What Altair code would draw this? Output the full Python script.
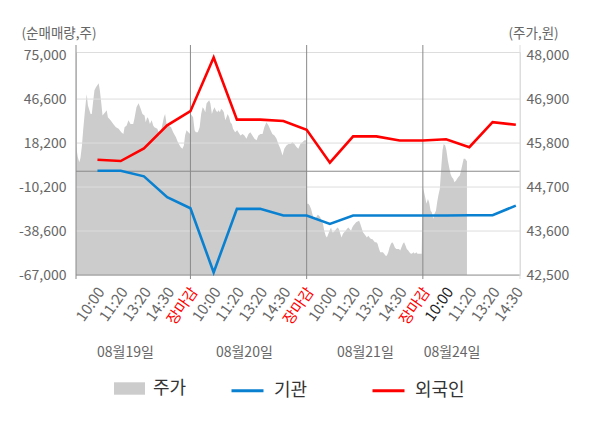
import altair as alt
import pandas as pd

# ---------------- data ----------------
# x position unit: "slot" (each trading day = 390 slots, label ticks every 78)
tick_slots = [78, 156, 234, 312, 390, 468, 546, 624, 702, 780,
              858, 936, 1014, 1092, 1170, 1248, 1326, 1404, 1482]
tick_labels = ["10:00", "11:20", "13:20", "14:30", "장마감",
               "10:00", "11:20", "13:20", "14:30", "장마감",
               "10:00", "11:20", "13:20", "14:30", "장마감",
               "10:00", "11:20", "13:20", "14:30"]
tick_kinds = ["n", "n", "n", "n", "close",
              "n", "n", "n", "n", "close",
              "n", "n", "n", "n", "close",
              "hi", "n", "n", "n"]

day_bounds = [390, 780, 1170]
date_slots = [172, 571, 977, 1268]
date_labels = ["08월19일", "08월20일", "08월21일", "08월24일"]

# net buying (shares) at label positions
inst_net = [300, 300, -3300, -16800, -23900, -65300, -24300, -24300, -28600, -28600,
            -34000, -28600, -28600, -28600, -28600, -28600, -28400, -28400, -22200]
foreign_net = [7400, 6600, 14800, 29600, 38800, 73400, 33300, 33300, 32400, 26800,
               5500, 22500, 22500, 19900, 19900, 20700, 15500, 31700, 30000]

# share price (won), intraday
day1_slot = [6, 12, 17, 21, 26, 30, 35, 39, 42, 46, 51, 55, 59, 64, 68, 73, 77, 82, 86, 91,
             95, 99, 104, 109, 113, 122, 131, 140, 149, 158, 165, 169, 176, 182, 189, 198, 202, 209, 216, 223,
             229, 236, 240, 245, 249, 254, 260, 265, 269, 279, 287, 294, 301, 305, 310, 316, 325, 332, 341, 348,
             357, 363, 368, 372, 377, 383, 389]
day1_price = [45740, 45450, 45320, 45430, 45740, 46120, 46530, 46830, 47020, 46740,
              46620, 46530, 46530, 46870, 47120, 47200, 47240, 47300, 47120, 46790,
              46490, 46530, 46570, 46620, 46450, 46370, 46280, 46200, 46160, 46070,
              46030, 46200, 46240, 46370, 46280, 46280, 46410, 46700, 46800, 46660,
              46530, 46490, 46320, 46450, 46410, 46280, 46370, 46240, 46200, 46160,
              45990, 46200, 46450, 46530, 46280, 46240, 46200, 46070, 45950, 45820,
              45700, 45660, 45740, 45990, 46120, 46070, 46030]

day2_slot = [391, 399, 404, 408, 415, 421, 426, 431, 435, 440, 444, 448, 453, 457, 462, 466, 471, 475, 480, 484,
             489, 493, 498, 502, 507, 511, 515, 520, 524, 529, 533, 540, 547, 551, 558, 565, 571, 578, 585, 591,
             598, 605, 612, 618, 625, 632, 638, 645, 652, 659, 665, 672, 679, 685, 692, 699, 705, 712, 719, 726,
             732, 739, 746, 752, 759, 766, 773, 779]
day2_price = [46530, 46450, 46120, 46070, 46070, 46200, 46530, 46700, 46660, 46570,
              46790, 46830, 46870, 46790, 46530, 46620, 46700, 46620, 46570, 46620,
              46570, 46660, 46620, 46570, 46370, 46450, 46530, 46450, 46320, 46280,
              46160, 46070, 46120, 46070, 45990, 46030, 45990, 45910, 46030, 46070,
              45990, 45910, 45870, 45990, 46030, 46030, 46200, 46320, 46240, 46120,
              46030, 45990, 45910, 45780, 45660, 45490, 45660, 45740, 45780, 45780,
              45820, 45780, 45700, 45660, 45780, 45820, 45870, 45870]

day3_slot = [782, 786, 790, 795, 799, 803, 808, 812, 817, 821, 826, 830, 835, 839, 844, 848, 853, 857, 862, 866,
             870, 875, 879, 884, 888, 893, 897, 902, 906, 911, 915, 920, 924, 929, 933, 937, 942, 946, 951, 956,
             960, 964, 969, 973, 978, 982, 987, 991, 996, 1000, 1005, 1009, 1014, 1018, 1023, 1027, 1031, 1036,
             1040, 1045, 1049, 1054, 1058, 1063, 1067, 1071, 1076, 1081, 1085, 1090, 1094, 1098, 1103, 1107,
             1112, 1116, 1121, 1125, 1130, 1134, 1139, 1143, 1148, 1152, 1157, 1161, 1166]
day3_price = [44280, 44280, 44240, 44150, 44030, 43940, 43900, 43940, 44010, 43990,
              43940, 43860, 43780, 43610, 43480, 43440, 43530, 43610, 43690, 43570,
              43570, 43610, 43650, 43690, 43650, 43530, 43440, 43530, 43570, 43610,
              43650, 43690, 43650, 43610, 43690, 43740, 43780, 43820, 43840, 43860,
              43780, 43690, 43570, 43530, 43480, 43440, 43480, 43440, 43400, 43400,
              43360, 43320, 43320, 43280, 43150, 43070, 43070, 43070, 43030, 42980,
              42980, 43070, 43190, 43280, 43320, 43280, 43190, 43150, 43150, 43150,
              43110, 43190, 43280, 43320, 43230, 43150, 43110, 43070, 43030, 43040,
              43070, 43030, 43070, 43030, 43030, 43030, 43030]

day4_slot = [1170, 1173, 1178, 1182, 1187, 1191, 1196, 1200, 1205, 1209, 1214, 1218, 1222, 1227, 1231,
             1236, 1240, 1245, 1249, 1254, 1258, 1263, 1267, 1272, 1276, 1281, 1285, 1289, 1294, 1298,
             1303, 1307, 1312, 1316, 1318]
day4_price = [44700, 44610, 44440, 44280, 44400, 44320, 44110, 44070, 43900, 44030,
              44110, 44320, 44490, 44660, 45110, 45620, 45780, 45740, 45620, 45360,
              45200, 45030, 44950, 44910, 44820, 44860, 44910, 44950, 44990, 45110,
              45280, 45410, 45410, 45360, 45360]

left_ticks = [-67000, -38600, -10200, 18200, 46600, 75000]
right_ticks = [42500, 43600, 44700, 45800, 46900, 48000]
grid_vals = [46600, 18200, -10200, -38600]

# ---------------- tables ----------------
price_df = pd.DataFrame({
    "slot": day1_slot + day2_slot + day3_slot + day4_slot,
    "price": day1_price + day2_price + day3_price + day4_price,
})
price_df["series"] = "주가"

net_df = pd.DataFrame({
    "slot": tick_slots * 2,
    "net": inst_net + foreign_net,
    "series": ["기관"] * len(tick_slots) + ["외국인"] * len(tick_slots),
})

tick_df = pd.DataFrame({"slot": tick_slots, "label": tick_labels, "kind": tick_kinds})

bound_df = pd.DataFrame({
    "slot": [6] + day_bounds + [1496],
    "kind": ["edge", "sep", "sep", "sep", "redge"],
})
grid_df = pd.DataFrame({"v": grid_vals})
zero_df = pd.DataFrame({"v": [0]})
base_df = pd.DataFrame({"v": [left_ticks[0]]})
date_df = pd.DataFrame({"slot": date_slots, "label": date_labels})

FONT = "Noto Sans CJK KR"
W, H = 444, 223
XDOM = [6, 1496]
LDOM = [-67000, 77000]
RDOM = [42500, 48080]
xs = alt.Scale(domain=XDOM, nice=False, zero=False)
ls = alt.Scale(domain=LDOM, nice=False, zero=False)

num_expr = "replace(format(datum.value, ','), '\u2212', '-')"

area = alt.Chart(price_df).mark_area(interpolate="linear", opacity=1).encode(
    x=alt.X("slot:Q", scale=xs, axis=None),
    y=alt.Y("price:Q", scale=alt.Scale(domain=RDOM, nice=False, zero=False),
            axis=alt.Axis(orient="right", values=right_ticks, labelExpr=num_expr,
                          labelFontSize=14, labelColor="#666666", labelFont=FONT,
                          labelPadding=6, ticks=False, domain=False, grid=False,
                          title="(주가,원)", titleAngle=0, titleAlign="left",
                          titleBaseline="middle", titleX=-12, titleY=-19,
                          titleFontSize=13.5, titleFontWeight="normal",
                          titleColor="#666666", titleFont=FONT)),
    y2=alt.datum(42500),
    fill=alt.Fill("series:N", scale=alt.Scale(domain=["주가"], range=["#cccccc"]),
                  legend=alt.Legend(orient="none", legendX=38, legendY=321, title=None,
                                    symbolType="M-1,-0.4L1,-0.4L1,0.4L-1,0.4Z",
                                    symbolSize=961, symbolStrokeWidth=0,
                                    labelFontSize=18, labelColor="#333333",
                                    labelFont=FONT, labelOffset=8)),
)

grid = alt.Chart(grid_df).mark_rule(color="#dddddd", strokeWidth=1).encode(
    x=alt.value(0), x2=alt.value(W),
    y=alt.Y("v:Q", scale=ls, axis=None),
)

zero = alt.Chart(zero_df).mark_rule(color="#8a8a8a", strokeWidth=1).encode(
    x=alt.value(0), x2=alt.value(W),
    y=alt.Y("v:Q", scale=ls, axis=None),
)

base = alt.Chart(base_df).mark_rule(color="#999999", strokeWidth=1).encode(
    x=alt.value(0), x2=alt.value(W),
    y=alt.Y("v:Q", scale=ls, axis=None),
)

bounds = alt.Chart(bound_df).mark_rule(strokeWidth=1).encode(
    x=alt.X("slot:Q", scale=xs, axis=None),
    y=alt.value(-7), y2=alt.value(H + 4),
    color=alt.Color("kind:N", scale=alt.Scale(domain=["edge", "sep", "redge"],
                                              range=["#8a8a8a", "#8a8a8a", "#dddddd"]),
                    legend=None),
)

lines = alt.Chart(net_df).mark_line(strokeWidth=2.6, interpolate="linear").encode(
    x=alt.X("slot:Q", scale=xs, axis=None),
    y=alt.Y("net:Q", scale=ls,
            axis=alt.Axis(orient="left", values=left_ticks, labelExpr=num_expr,
                          labelFontSize=14, labelColor="#666666", labelFont=FONT,
                          labelPadding=10, ticks=False, domain=False, grid=False,
                          title="(순매매량,주)", titleAngle=0, titleAlign="left",
                          titleBaseline="middle", titleX=-55, titleY=-19,
                          titleFontSize=13.5, titleFontWeight="normal",
                          titleColor="#666666", titleFont=FONT)),
    stroke=alt.Stroke("series:N",
                      scale=alt.Scale(domain=["기관", "외국인"], range=["#0a80d0", "#ff0000"]),
                      legend=alt.Legend(orient="none", legendX=154, legendY=321, title=None,
                                        direction="horizontal", symbolType="stroke",
                                        symbolSize=1024, symbolStrokeWidth=3,
                                        labelFontSize=18, labelColor="#333333",
                                        labelFont=FONT, labelOffset=9, columnPadding=58)),
    order=alt.Order("slot:Q"),
)

ticklabels = alt.Chart(tick_df).mark_text(fontSize=15, font=FONT, angle=305,
                                          align="right", baseline="middle",
                                          dx=2.2, dy=3.1).encode(
    x=alt.X("slot:Q", scale=xs, axis=None),
    y=alt.value(H + 14),
    text="label:N",
    color=alt.Color("kind:N", scale=alt.Scale(domain=["n", "close", "hi"],
                                              range=["#666666", "#ff0000", "#222222"]),
                    legend=None),
)

dates = alt.Chart(date_df).mark_text(fontSize=14, color="#666666", font=FONT,
                                     baseline="middle", align="center").encode(
    x=alt.X("slot:Q", scale=xs, axis=None),
    y=alt.value(H + 78),
    text="label:N",
)

chart = alt.layer(area, grid, zero, base, bounds, lines, ticklabels, dates).resolve_scale(
    y="independent", color="independent"
).properties(
    width=W, height=H,
    autosize=alt.AutoSizeParams(type="none"),
    padding={"left": 68, "top": 44, "right": 72, "bottom": 150},
).configure_view(fill="#f4f4f4", stroke=None).configure(font=FONT)

chart.save("out.html", embed_options={"renderer": "svg", "actions": False})
